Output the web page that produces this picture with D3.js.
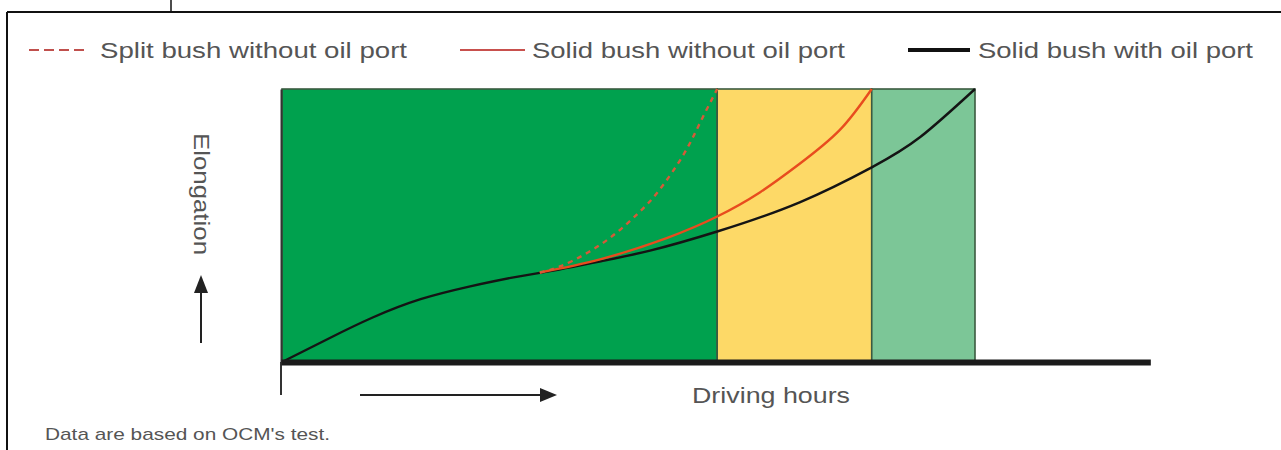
<!DOCTYPE html>
<html>
<head>
<meta charset="utf-8">
<script src="https://cdn.jsdelivr.net/npm/d3@7"></script>
<style>
  body { margin: 0; background: #fff; }
  svg { display: block; }
  text { font-family: "Liberation Sans", Arial, Helvetica, sans-serif; fill: #555; }
</style>
</head>
<body>
<svg id="chart" width="1281" height="450"></svg>
<script>
// ---------- data (hours: 0..100 = end of plotted range; elongation: 0..100 = top) ----------
const seriesNames = ["Split bush without oil port", "Solid bush without oil port", "Solid bush with oil port"];

const splitHours = [37.2, 40.1, 44.2, 48.1, 51.4, 54.3, 57.9, 60.3, 62.8];
const splitElong = [32.8, 35.0, 40.2, 47.0, 54.5, 62.5, 75.8, 87.5, 100];

const solidNoPortHours = [37.2, 45.9, 55.6, 62.8, 69.0, 74.7, 80.5, 85.1];
const solidNoPortElong = [32.8, 37.6, 45.5, 53.3, 62.2, 72.6, 85.0, 100];

const solidPortHours = [0, 6.9, 13, 20, 27, 33, 40, 46, 53.1, 62.8, 74.7, 85.1, 92.1, 100];
const solidPortElong = [0, 8.8, 16.2, 23, 27.6, 30.8, 33.9, 36.9, 40.8, 47.8, 58.5, 71.3, 82.4, 100];

const zoneStart = [0, 62.8, 85.1];
const zoneEnd = [62.8, 85.1, 100];
const axisEndHours = 125.3;

const xTitle = "Driving hours";
const yTitle = "Elongation";
const noteText = "Data are based on OCM's test.";

// ---------- styles ----------
const zoneFill = ["#00a14e", "#fdd967", "#7cc697"];
const seriesColor = ["#d65a38", "#e84c1e", "#141414"];

const svg = d3.select("#chart");

// frame
svg.append("line").attr("x1", 7).attr("x2", 1281).attr("y1", 12).attr("y2", 12).attr("stroke", "#111").attr("stroke-width", 2);
svg.append("line").attr("x1", 7).attr("x2", 7).attr("y1", 12).attr("y2", 450).attr("stroke", "#111").attr("stroke-width", 2);
svg.append("line").attr("x1", 171).attr("x2", 171).attr("y1", 0).attr("y2", 12).attr("stroke", "#111").attr("stroke-width", 1.5);

const x = d3.scaleLinear().domain([0, 100]).range([282, 975]);
const y = d3.scaleLinear().domain([0, 100]).range([362, 89]);

// zones
svg.append("g").selectAll("rect").data(zoneStart).join("rect")
  .attr("x", (d) => x(d))
  .attr("y", y(100))
  .attr("width", (d, i) => x(zoneEnd[i]) - x(d))
  .attr("height", y(0) - y(100))
  .attr("fill", (d, i) => zoneFill[i])
  .attr("stroke", "#3b5a40")
  .attr("stroke-width", 1.6);

// y axis line (no ticks)
const yAxis = d3.axisLeft(y).ticks(0).tickSize(0).tickSizeOuter(0);
const gy = svg.append("g").attr("transform", `translate(${x(0) - 1},0)`).call(yAxis);
gy.select(".domain").attr("stroke", "#333").attr("stroke-width", 2);
svg.append("line").attr("x1", x(0) - 1).attr("x2", x(0) - 1).attr("y1", y(0)).attr("y2", 395).attr("stroke", "#333").attr("stroke-width", 2);

// curves
const line = d3.line().x((d) => x(d[0])).y((d) => y(d[1])).curve(d3.curveNatural);
const seriesData = [
  d3.zip(splitHours, splitElong),
  d3.zip(solidNoPortHours, solidNoPortElong),
  d3.zip(solidPortHours, solidPortElong)
];
// draw black first, then red ones on top
[2, 1, 0].forEach((i) => {
  svg.append("path")
    .datum(seriesData[i])
    .attr("d", line)
    .attr("fill", "none")
    .attr("stroke", seriesColor[i])
    .attr("stroke-width", 2.4)
    .attr("stroke-dasharray", i === 0 ? "5,5" : null);
});

// bottom axis (thick)
const xAxisScale = d3.scaleLinear().domain([0, axisEndHours]).range([x(0) - 1, x(axisEndHours)]);
const gx = svg.append("g").attr("transform", `translate(0,${y(0)})`).call(d3.axisBottom(xAxisScale).ticks(0).tickSize(0).tickSizeOuter(0));
gx.select(".domain").attr("stroke", "#1b1b1b").attr("stroke-width", 6);

// arrows
svg.append("line").attr("x1", 201).attr("x2", 201).attr("y1", 343).attr("y2", 290).attr("stroke", "#222").attr("stroke-width", 2);
svg.append("path").attr("d", "M201,275 L194,293 L208,293 Z").attr("fill", "#222");
svg.append("line").attr("x1", 360).attr("x2", 542).attr("y1", 395).attr("y2", 395).attr("stroke", "#222").attr("stroke-width", 2);
svg.append("path").attr("d", "M557,395 L540,388 L540,402 Z").attr("fill", "#222");

// axis titles
svg.append("text").attr("transform", "translate(194,194) rotate(90)")
  .attr("text-anchor", "middle").attr("font-size", 22)
  .attr("textLength", 122).attr("lengthAdjust", "spacingAndGlyphs").text(yTitle);
svg.append("text").attr("x", 771).attr("y", 403).attr("text-anchor", "middle").attr("font-size", 22)
  .attr("textLength", 158).attr("lengthAdjust", "spacingAndGlyphs").text(xTitle);

// note
svg.append("text").attr("x", 45).attr("y", 440).attr("font-size", 17)
  .attr("textLength", 285).attr("lengthAdjust", "spacingAndGlyphs").text(noteText);

// legend
const legX = [29, 460, 908];
const legX2 = [87, 525, 970];
const legTextX = [100, 532, 978];
const legTextLen = [307, 313, 275];
const legStroke = ["#c0504d", "#c8504d", "#111"];
const legWidth = [2, 2, 4];
const lg = svg.append("g");
seriesNames.forEach((name, i) => {
  lg.append("line").attr("x1", legX[i]).attr("x2", legX2[i]).attr("y1", 50).attr("y2", 50)
    .attr("stroke", legStroke[i]).attr("stroke-width", legWidth[i])
    .attr("stroke-dasharray", i === 0 ? "10,5" : null);
  lg.append("text").attr("x", legTextX[i]).attr("y", 58).attr("font-size", 22)
    .attr("textLength", legTextLen[i]).attr("lengthAdjust", "spacingAndGlyphs").text(name);
});
</script>
</body>
</html>
